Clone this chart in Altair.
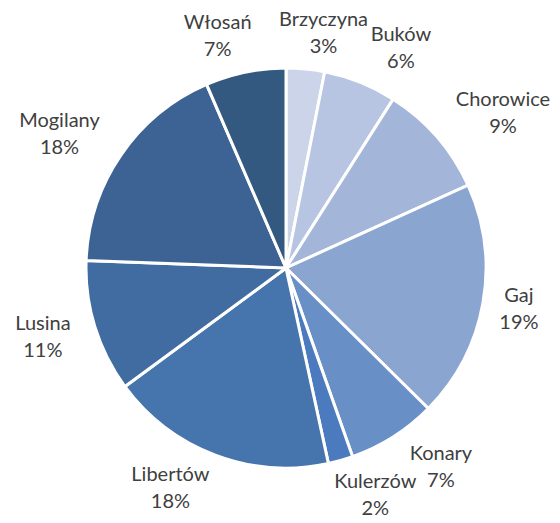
import altair as alt
import pandas as pd

names = ["Brzyczyna", "Buków", "Chorowice", "Gaj", "Konary", "Kulerzów",
         "Libertów", "Lusina", "Mogilany", "Włosań"]
values = [3.1, 5.9, 9.2, 19.2, 7.2, 2.0, 18.3, 10.7, 17.9, 6.5]
pct_labels = ["3%", "6%", "9%", "19%", "7%", "2%", "18%", "11%", "18%", "7%"]
colors = ["#CBD4E8", "#B7C5E2", "#A3B6DA", "#8BA5D1", "#6890C6",
          "#4B7BBE", "#4674AD", "#416CA2", "#3C6394", "#345981"]

df = pd.DataFrame({
    "name": names,
    "value": values,
    "pct": pct_labels,
    "idx": list(range(len(names))),
})

CX, CY, R = 278, 260, 200
LH = 27

base = alt.Chart(df)

arcs = base.mark_arc(outerRadius=R, stroke="white", strokeWidth=3).encode(
    theta=alt.Theta("value:Q", stack=True),
    order=alt.Order("idx:Q"),
    color=alt.Color("name:N", scale=alt.Scale(domain=names, range=colors), legend=None),
    x=alt.value(CX),
    y=alt.value(CY),
)

labels = base.transform_window(
    cum="sum(value)", sort=[alt.SortField("idx")]
).transform_joinaggregate(
    total="sum(value)"
).transform_calculate(
    mid="(datum.cum - datum.value/2) / datum.total * 2 * PI",
    hw="max(length(datum.name), length(datum.pct)) * 5.4",
).transform_calculate(
    k="cos(datum.mid) > 0 ? 3 : 2.2",
).transform_calculate(
    label="datum.name + '\\n' + datum.pct",
    lx=f"{CX} + {R + 10} * sin(datum.mid) + (datum.hw + 10) * clamp(datum.k * sin(datum.mid), -1, 1)",
    ly=f"{CY} - {R + 10} * cos(datum.mid) - 26 * cos(datum.mid)",
).mark_text(
    font="Lato", fontSize=20, color="#404040", lineBreak="\n",
    lineHeight=LH, align="center", baseline="middle", dy=-LH / 2
).encode(
    x=alt.X("lx:Q", scale=None, axis=None),
    y=alt.Y("ly:Q", scale=None, axis=None),
    text="label:N",
)

chart = alt.layer(arcs, labels).properties(
    width=544, height=507, padding=0, autosize=alt.AutoSizeParams(type="none")
).configure_view(stroke=None)

chart.save("out.html", embed_options={"renderer": "svg", "actions": False})
